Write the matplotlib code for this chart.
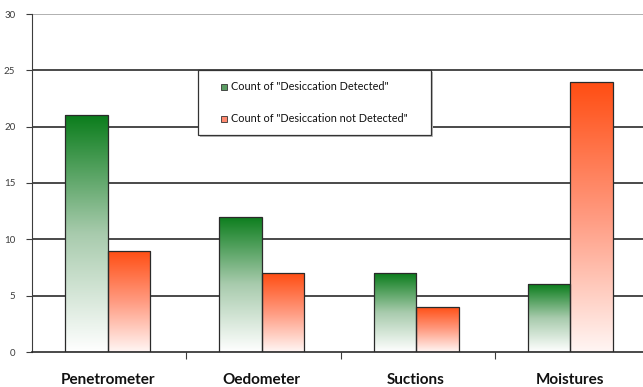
import matplotlib.pyplot as plt
import numpy as np
from matplotlib.colors import LinearSegmentedColormap
from matplotlib.patches import Rectangle

categories = ['Penetrometer', 'Oedometer', 'Suctions', 'Moistures']
detected = [21, 12, 7, 6]
not_detected = [9, 7, 4, 24]
series_labels = ['Count of "Desiccation Detected"', 'Count of "Desiccation not Detected"']

green_map = LinearSegmentedColormap.from_list('g', ['#ffffff', '#a8cbad', '#0b7d1c'])
red_map = LinearSegmentedColormap.from_list('r', ['#fff6f4', '#ff9a80', '#ff4d12'])

plt.rcParams['font.family'] = ['Lato', 'DejaVu Sans']

fig = plt.figure(figsize=(6.43, 3.87), dpi=100)
ax = fig.add_axes([32 / 643, 35 / 387, 617 / 643, 338 / 387])

ax.set_xlim(0, 4)
ax.set_ylim(0, 30)

# horizontal gridlines
for yv in range(5, 31, 5):
    ax.axhline(yv, color='#aaaaaa' if yv == 30 else '#3c3c3c', lw=1.3, zorder=1)

width = 0.275
gradient = np.linspace(0, 1, 256).reshape(-1, 1)


def gradient_bar(x0, height, cmap):
    img = ax.imshow(gradient, cmap=cmap, origin='lower', aspect='auto',
                    extent=(x0, x0 + width, 0, height), zorder=2)
    rect = Rectangle((x0, 0), width, height, facecolor='none',
                     edgecolor='#2a2a2a', lw=0.9, zorder=3)
    ax.add_patch(rect)
    img.set_clip_path(rect)


for i in range(len(categories)):
    center = i + 0.49
    gradient_bar(center - width, detected[i], green_map)
    gradient_bar(center, not_detected[i], red_map)

# axes lines and ticks
for side in ['top', 'right']:
    ax.spines[side].set_visible(False)
ax.spines['left'].set_color('#3c3c3c')
ax.spines['bottom'].set_color('#2a2a2a')
ax.spines['bottom'].set_linewidth(1.2)

ax.set_yticks(range(0, 31, 5))
ax.tick_params(axis='y', length=4, labelsize=7, colors='#3c3c3c', pad=8)
ax.set_xticks([1, 2, 3])
ax.set_xticklabels([])
ax.tick_params(axis='x', length=5, direction='out', color='#3c3c3c')
for i, name in enumerate(categories):
    ax.text(i + 0.49, -2.45, name, ha='center', va='center', fontsize=11,
            fontweight='bold', color='#111111')

# legend box
box = Rectangle((198 / 643, 1 - 135 / 387), 233 / 643, 65 / 387,
                transform=fig.transFigure, facecolor='white', edgecolor='#333333',
                lw=0.9, zorder=5)
shadow = Rectangle((200 / 643, 1 - 137 / 387), 233 / 643, 65 / 387,
                   transform=fig.transFigure, facecolor='#bbbbbb', edgecolor='none',
                   zorder=4)
fig.patches.extend([shadow, box])
for k, (label, col) in enumerate(zip(series_labels, ['#5a9c62', '#ff8a70'])):
    ypix = 87 + 32 * k
    fig.patches.append(Rectangle((221 / 643, 1 - (ypix + 3) / 387), 6 / 643, 6 / 387,
                                 transform=fig.transFigure, facecolor=col,
                                 edgecolor='#333333', lw=0.6, zorder=6))
    fig.text(231 / 643, 1 - ypix / 387, label, ha='left', va='center',
             fontsize=7.8, color='#111111', zorder=6)

fig.savefig('out.png', dpi=100)
